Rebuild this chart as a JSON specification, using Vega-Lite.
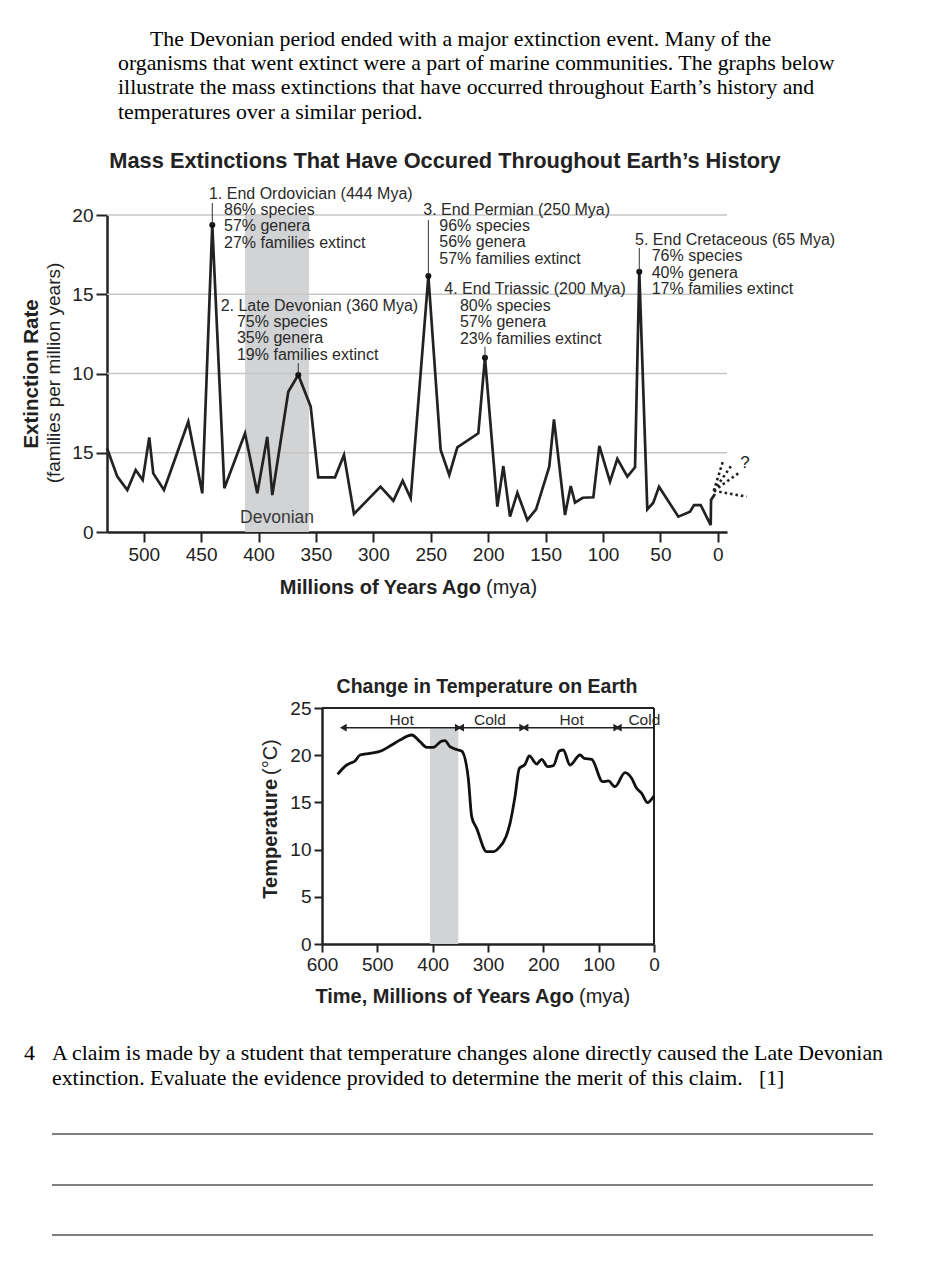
{
  "$schema": "https://vega.github.io/schema/vega-lite/v6.json",
  "width": 952,
  "height": 1270,
  "padding": 0,
  "autosize": {"type": "none"},
  "background": "white",
  "config": {
    "view": {"stroke": null},
    "axis": {"grid": false, "domainColor": "#222", "domainWidth": 2.5, "tickColor": "#222", "tickWidth": 2, "labelColor": "#222", "labelFont": "Liberation Sans", "labelFontSize": 19, "labelFlush": false, "labelOverlap": false}
  },
  "data": {"values": [{}]},
  "datasets": {
    "extinction": [
      {"mya": 532, "rate": 5.28}, {"mya": 523.0, "rate": 3.49}, {"mya": 514.3, "rate": 2.65}, {"mya": 507.0, "rate": 3.91},
      {"mya": 500.9, "rate": 3.28}, {"mya": 495.2, "rate": 5.97}, {"mya": 491.7, "rate": 3.70}, {"mya": 482.4, "rate": 2.65},
      {"mya": 461.2, "rate": 6.96}, {"mya": 449.0, "rate": 2.44}, {"mya": 440.3, "rate": 19.37}, {"mya": 429.8, "rate": 2.76},
      {"mya": 411.8, "rate": 6.23}, {"mya": 401.1, "rate": 2.44}, {"mya": 392.4, "rate": 6.01}, {"mya": 388.0, "rate": 2.33},
      {"mya": 374.1, "rate": 8.85}, {"mya": 365.4, "rate": 9.91}, {"mya": 354.6, "rate": 7.91}, {"mya": 348.0, "rate": 3.45},
      {"mya": 333.4, "rate": 3.45}, {"mya": 325.6, "rate": 4.86}, {"mya": 316.9, "rate": 1.14}, {"mya": 293.8, "rate": 2.86},
      {"mya": 282.6, "rate": 1.97}, {"mya": 274.5, "rate": 3.24}, {"mya": 267.5, "rate": 2.13}, {"mya": 252.1, "rate": 16.15},
      {"mya": 241.4, "rate": 5.17}, {"mya": 233.9, "rate": 3.60}, {"mya": 226.9, "rate": 5.34}, {"mya": 208.6, "rate": 6.23},
      {"mya": 202.8, "rate": 11.0}, {"mya": 192.0, "rate": 1.60}, {"mya": 186.8, "rate": 4.16}, {"mya": 181.0, "rate": 0.97},
      {"mya": 174.6, "rate": 2.48}, {"mya": 165.9, "rate": 0.76}, {"mya": 158.3, "rate": 1.43}, {"mya": 146.8, "rate": 4.12},
      {"mya": 142.7, "rate": 7.11}, {"mya": 133.1, "rate": 1.07}, {"mya": 128.1, "rate": 2.90}, {"mya": 124.4, "rate": 1.85},
      {"mya": 117.7, "rate": 2.16}, {"mya": 108.4, "rate": 2.19}, {"mya": 103.2, "rate": 5.43}, {"mya": 93.9, "rate": 3.17},
      {"mya": 87.5, "rate": 4.61}, {"mya": 78.8, "rate": 3.49}, {"mya": 72.1, "rate": 4.08}, {"mya": 68.4, "rate": 16.42},
      {"mya": 61.4, "rate": 1.43}, {"mya": 56.2, "rate": 1.85}, {"mya": 51.2, "rate": 2.86}, {"mya": 34.4, "rate": 0.97},
      {"mya": 24.2, "rate": 1.28}, {"mya": 20.7, "rate": 1.70}, {"mya": 14.9, "rate": 1.70}, {"mya": 6.2, "rate": 0.44},
      {"mya": 5.9, "rate": 2.02}, {"mya": 2.5, "rate": 2.4}
    ],
    "events": [
      {"event": "End Ordovician", "mya": 440.3, "rate": 19.37},
      {"event": "Late Devonian", "mya": 365.4, "rate": 9.91},
      {"event": "End Permian", "mya": 252.1, "rate": 16.15},
      {"event": "End Triassic", "mya": 202.8, "rate": 11.0},
      {"event": "End Cretaceous", "mya": 68.4, "rate": 16.42}
    ],
    "fan": [
      {"fan": 1, "mya": 3.5, "rate": 2.6}, {"fan": 1, "mya": -4.8, "rate": 4.54},
      {"fan": 2, "mya": 3.5, "rate": 2.6}, {"fan": 2, "mya": -12.1, "rate": 4.23},
      {"fan": 3, "mya": 3.5, "rate": 2.6}, {"fan": 3, "mya": -17.8, "rate": 3.70},
      {"fan": 4, "mya": 3.5, "rate": 2.6}, {"fan": 4, "mya": -25.1, "rate": 2.23}
    ],
    "gridlines": [{"rate": 5}, {"rate": 10}, {"rate": 15}, {"rate": 20}],
    "temperature": [
      {"mya": 571.7, "temp": 17.97}, {"mya": 555.4, "temp": 18.96}, {"mya": 549.4, "temp": 19.14}, {"mya": 540.4, "temp": 19.39},
      {"mya": 531.3, "temp": 20.02}, {"mya": 513.3, "temp": 20.20}, {"mya": 492.2, "temp": 20.48}, {"mya": 477.1, "temp": 20.97},
      {"mya": 459.0, "temp": 21.61}, {"mya": 437.9, "temp": 22.14}, {"mya": 422.9, "temp": 21.43}, {"mya": 410.8, "temp": 20.83},
      {"mya": 398.8, "temp": 20.83}, {"mya": 383.7, "temp": 21.50}, {"mya": 377.7, "temp": 21.54}, {"mya": 368.7, "temp": 20.90},
      {"mya": 353.6, "temp": 20.55}, {"mya": 347.6, "temp": 20.44}, {"mya": 335.6, "temp": 17.55}, {"mya": 329.5, "temp": 13.49},
      {"mya": 320.5, "temp": 12.25}, {"mya": 302.4, "temp": 9.78}, {"mya": 290.4, "temp": 9.78}, {"mya": 281.3, "temp": 10.13},
      {"mya": 267.5, "temp": 11.37}, {"mya": 260.2, "temp": 12.78}, {"mya": 251.2, "temp": 15.61}, {"mya": 243.4, "temp": 18.61},
      {"mya": 233.1, "temp": 19.03}, {"mya": 225.3, "temp": 19.92}, {"mya": 212.0, "temp": 19.07}, {"mya": 203.0, "temp": 19.56},
      {"mya": 192.2, "temp": 18.79}, {"mya": 181.9, "temp": 18.89}, {"mya": 171.1, "temp": 20.44}, {"mya": 163.9, "temp": 20.55},
      {"mya": 151.8, "temp": 18.96}, {"mya": 133.7, "temp": 20.02}, {"mya": 125.9, "temp": 19.67}, {"mya": 112.6, "temp": 19.56},
      {"mya": 92.8, "temp": 17.20}, {"mya": 82.5, "temp": 17.27}, {"mya": 70.5, "temp": 16.67}, {"mya": 52.4, "temp": 18.15},
      {"mya": 40.4, "temp": 17.55}, {"mya": 31.3, "temp": 16.49}, {"mya": 22.3, "temp": 15.96}, {"mya": 11.4, "temp": 14.97},
      {"mya": 7.2, "temp": 15.15}, {"mya": 0, "temp": 15.68}
    ],
    "periods": [
      {"period": "Hot", "start": 561.5, "end": 353.7},
      {"period": "Cold", "start": 349.4, "end": 237.3},
      {"period": "Hot", "start": 233.1, "end": 67.4},
      {"period": "Cold", "start": 64.5, "end": 0}
    ]
  },
  "layer": [
    {"mark": {"type": "rect", "color": "#d2d3d5"},
     "encoding": {"x": {"datum": 411.8, "type": "quantitative", "scale": {"domain": [-8, 532], "range": [727, 107], "nice": false, "zero": false}, "axis": null}, "x2": {"datum": 356.1},
                  "y": {"datum": 0, "type": "quantitative", "scale": {"domain": [0, 20], "range": [532, 215], "nice": false, "zero": false}, "axis": null}, "y2": {"datum": 20}}},
    {"data": {"name": "gridlines"}, "mark": {"type": "rule", "color": "#c6c6c6", "strokeWidth": 1.6},
     "encoding": {"x": {"datum": 532, "type": "quantitative", "scale": {"domain": [-8, 532], "range": [727, 107], "nice": false, "zero": false}, "axis": null}, "x2": {"datum": -8},
                  "y": {"field": "rate", "type": "quantitative", "scale": {"domain": [0, 20], "range": [532, 215], "nice": false, "zero": false}, "axis": null}}},
    {"data": {"name": "extinction"}, "mark": {"type": "line", "color": "#222", "strokeWidth": 2.7},
     "encoding": {"x": {"field": "mya", "type": "quantitative", "scale": {"domain": [-8, 532], "range": [727, 107], "nice": false, "zero": false},
                        "axis": {"orient": "bottom", "offset": -738, "values": [500, 450, 400, 350, 300, 250, 200, 150, 100, 50, 0], "title": null, "tickSize": 10, "labelPadding": 3, "format": "d"}},
                  "y": {"field": "rate", "type": "quantitative", "scale": {"domain": [0, 20], "range": [532, 215], "nice": false, "zero": false},
                        "axis": {"orient": "left", "offset": -107, "values": [0, 5, 10, 15, 20], "title": null, "tickSize": 11, "labelPadding": 3, "labelExpr": "datum.value == 5 ? '15' : datum.label"}}}},
    {"data": {"name": "fan"}, "mark": {"type": "line", "color": "#222", "strokeWidth": 2.6, "strokeDash": [2.5, 3]},
     "encoding": {"x": {"field": "mya", "type": "quantitative", "scale": {"domain": [-8, 532], "range": [727, 107], "nice": false, "zero": false}, "axis": null},
                  "y": {"field": "rate", "type": "quantitative", "scale": {"domain": [0, 20], "range": [532, 215], "nice": false, "zero": false}, "axis": null},
                  "detail": {"field": "fan", "type": "nominal"}}},
    {"data": {"name": "events"}, "mark": {"type": "point", "filled": true, "color": "#111", "size": 36, "opacity": 1},
     "encoding": {"x": {"field": "mya", "type": "quantitative", "scale": {"domain": [-8, 532], "range": [727, 107], "nice": false, "zero": false}, "axis": null},
                  "y": {"field": "rate", "type": "quantitative", "scale": {"domain": [0, 20], "range": [532, 215], "nice": false, "zero": false}, "axis": null}}},
    {"mark": {"type": "rule", "color": "#333", "strokeWidth": 1},
     "encoding": {"x": {"datum": 440.3, "type": "quantitative", "scale": {"domain": [-8, 532], "range": [727, 107], "nice": false, "zero": false}, "axis": null},
                  "y": {"datum": 19.37, "type": "quantitative", "scale": {"domain": [0, 20], "range": [532, 215], "nice": false, "zero": false}, "axis": null}, "y2": {"datum": 20.76}}},
    {"mark": {"type": "rule", "color": "#333", "strokeWidth": 1},
     "encoding": {"x": {"datum": 365.4, "type": "quantitative", "scale": {"domain": [-8, 532], "range": [727, 107], "nice": false, "zero": false}, "axis": null},
                  "y": {"datum": 9.91, "type": "quantitative", "scale": {"domain": [0, 20], "range": [532, 215], "nice": false, "zero": false}, "axis": null}, "y2": {"datum": 10.66}}},
    {"mark": {"type": "rule", "color": "#333", "strokeWidth": 1},
     "encoding": {"x": {"datum": 252.1, "type": "quantitative", "scale": {"domain": [-8, 532], "range": [727, 107], "nice": false, "zero": false}, "axis": null},
                  "y": {"datum": 16.15, "type": "quantitative", "scale": {"domain": [0, 20], "range": [532, 215], "nice": false, "zero": false}, "axis": null}, "y2": {"datum": 19.68}}},
    {"mark": {"type": "rule", "color": "#333", "strokeWidth": 1},
     "encoding": {"x": {"datum": 202.8, "type": "quantitative", "scale": {"domain": [-8, 532], "range": [727, 107], "nice": false, "zero": false}, "axis": null},
                  "y": {"datum": 11.0, "type": "quantitative", "scale": {"domain": [0, 20], "range": [532, 215], "nice": false, "zero": false}, "axis": null}, "y2": {"datum": 11.69}}},
    {"mark": {"type": "rule", "color": "#333", "strokeWidth": 1},
     "encoding": {"x": {"datum": 68.4, "type": "quantitative", "scale": {"domain": [-8, 532], "range": [727, 107], "nice": false, "zero": false}, "axis": null},
                  "y": {"datum": 16.42, "type": "quantitative", "scale": {"domain": [0, 20], "range": [532, 215], "nice": false, "zero": false}, "axis": null}, "y2": {"datum": 17.92}}},
    {"mark": {"type": "text", "font": "Liberation Sans", "fontSize": 16, "color": "#2a2a2a", "align": "left", "baseline": "middle"},
     "encoding": {"x": {"datum": 443.2, "type": "quantitative", "scale": {"domain": [-8, 532], "range": [727, 107], "nice": false, "zero": false}, "axis": null},
                  "y": {"datum": 21.33, "type": "quantitative", "scale": {"domain": [0, 20], "range": [532, 215], "nice": false, "zero": false}, "axis": null},
                  "text": {"value": "1. End Ordovician (444 Mya)"}}},
    {"mark": {"type": "text", "font": "Liberation Sans", "fontSize": 16, "lineHeight": 16.5, "color": "#2a2a2a", "align": "left", "baseline": "middle"},
     "encoding": {"x": {"datum": 430.1, "type": "quantitative", "scale": {"domain": [-8, 532], "range": [727, 107], "nice": false, "zero": false}, "axis": null},
                  "y": {"datum": 20.32, "type": "quantitative", "scale": {"domain": [0, 20], "range": [532, 215], "nice": false, "zero": false}, "axis": null},
                  "text": {"value": ["86% species", "57% genera", "27% families extinct"]}}},
    {"mark": {"type": "text", "font": "Liberation Sans", "fontSize": 16, "color": "#2a2a2a", "align": "left", "baseline": "middle"},
     "encoding": {"x": {"datum": 433.0, "type": "quantitative", "scale": {"domain": [-8, 532], "range": [727, 107], "nice": false, "zero": false}, "axis": null},
                  "y": {"datum": 14.26, "type": "quantitative", "scale": {"domain": [0, 20], "range": [532, 215], "nice": false, "zero": false}, "axis": null},
                  "text": {"value": "2. Late Devonian (360 Mya)"}}},
    {"mark": {"type": "text", "font": "Liberation Sans", "fontSize": 16, "lineHeight": 16.5, "color": "#2a2a2a", "align": "left", "baseline": "middle"},
     "encoding": {"x": {"datum": 418.8, "type": "quantitative", "scale": {"domain": [-8, 532], "range": [727, 107], "nice": false, "zero": false}, "axis": null},
                  "y": {"datum": 13.25, "type": "quantitative", "scale": {"domain": [0, 20], "range": [532, 215], "nice": false, "zero": false}, "axis": null},
                  "text": {"value": ["75% species", "35% genera", "19% families extinct"]}}},
    {"mark": {"type": "text", "font": "Liberation Sans", "fontSize": 16, "color": "#2a2a2a", "align": "left", "baseline": "middle"},
     "encoding": {"x": {"datum": 256.5, "type": "quantitative", "scale": {"domain": [-8, 532], "range": [727, 107], "nice": false, "zero": false}, "axis": null},
                  "y": {"datum": 20.32, "type": "quantitative", "scale": {"domain": [0, 20], "range": [532, 215], "nice": false, "zero": false}, "axis": null},
                  "text": {"value": "3. End Permian (250 Mya)"}}},
    {"mark": {"type": "text", "font": "Liberation Sans", "fontSize": 16, "lineHeight": 16.5, "color": "#2a2a2a", "align": "left", "baseline": "middle"},
     "encoding": {"x": {"datum": 242.6, "type": "quantitative", "scale": {"domain": [-8, 532], "range": [727, 107], "nice": false, "zero": false}, "axis": null},
                  "y": {"datum": 19.31, "type": "quantitative", "scale": {"domain": [0, 20], "range": [532, 215], "nice": false, "zero": false}, "axis": null},
                  "text": {"value": ["96% species", "56% genera", "57% families extinct"]}}},
    {"mark": {"type": "text", "font": "Liberation Sans", "fontSize": 16, "color": "#2a2a2a", "align": "left", "baseline": "middle"},
     "encoding": {"x": {"datum": 238.2, "type": "quantitative", "scale": {"domain": [-8, 532], "range": [727, 107], "nice": false, "zero": false}, "axis": null},
                  "y": {"datum": 15.35, "type": "quantitative", "scale": {"domain": [0, 20], "range": [532, 215], "nice": false, "zero": false}, "axis": null},
                  "text": {"value": "4. End Triassic (200 Mya)"}}},
    {"mark": {"type": "text", "font": "Liberation Sans", "fontSize": 16, "lineHeight": 16.5, "color": "#2a2a2a", "align": "left", "baseline": "middle"},
     "encoding": {"x": {"datum": 224.6, "type": "quantitative", "scale": {"domain": [-8, 532], "range": [727, 107], "nice": false, "zero": false}, "axis": null},
                  "y": {"datum": 14.26, "type": "quantitative", "scale": {"domain": [0, 20], "range": [532, 215], "nice": false, "zero": false}, "axis": null},
                  "text": {"value": ["80% species", "57% genera", "23% families extinct"]}}},
    {"mark": {"type": "text", "font": "Liberation Sans", "fontSize": 16, "color": "#2a2a2a", "align": "left", "baseline": "middle"},
     "encoding": {"x": {"datum": 72.1, "type": "quantitative", "scale": {"domain": [-8, 532], "range": [727, 107], "nice": false, "zero": false}, "axis": null},
                  "y": {"datum": 18.42, "type": "quantitative", "scale": {"domain": [0, 20], "range": [532, 215], "nice": false, "zero": false}, "axis": null},
                  "text": {"value": "5. End Cretaceous (65 Mya)"}}},
    {"mark": {"type": "text", "font": "Liberation Sans", "fontSize": 16, "lineHeight": 16.5, "color": "#2a2a2a", "align": "left", "baseline": "middle"},
     "encoding": {"x": {"datum": 57.6, "type": "quantitative", "scale": {"domain": [-8, 532], "range": [727, 107], "nice": false, "zero": false}, "axis": null},
                  "y": {"datum": 17.39, "type": "quantitative", "scale": {"domain": [0, 20], "range": [532, 215], "nice": false, "zero": false}, "axis": null},
                  "text": {"value": ["76% species", "40% genera", "17% families extinct"]}}},
    {"mark": {"type": "text", "font": "Liberation Sans", "fontSize": 17.5, "color": "#3a3a3a", "align": "center", "baseline": "middle"},
     "encoding": {"x": {"datum": 383.9, "type": "quantitative", "scale": {"domain": [-8, 532], "range": [727, 107], "nice": false, "zero": false}, "axis": null},
                  "y": {"datum": 0.88, "type": "quantitative", "scale": {"domain": [0, 20], "range": [532, 215], "nice": false, "zero": false}, "axis": null},
                  "text": {"value": "Devonian"}}},
    {"mark": {"type": "text", "font": "Liberation Sans", "fontSize": 17, "color": "#222", "align": "center", "baseline": "middle"},
     "encoding": {"x": {"datum": -23.7, "type": "quantitative", "scale": {"domain": [-8, 532], "range": [727, 107], "nice": false, "zero": false}, "axis": null},
                  "y": {"datum": 4.35, "type": "quantitative", "scale": {"domain": [0, 20], "range": [532, 215], "nice": false, "zero": false}, "axis": null},
                  "text": {"value": "?"}}},
    {"mark": {"type": "text", "font": "Liberation Sans", "fontSize": 21.8, "fontWeight": "bold", "color": "#222", "align": "center", "baseline": "middle"},
     "encoding": {"x": {"datum": 237.6, "type": "quantitative", "scale": {"domain": [-8, 532], "range": [727, 107], "nice": false, "zero": false}, "axis": null},
                  "y": {"datum": 23.41, "type": "quantitative", "scale": {"domain": [0, 20], "range": [532, 215], "nice": false, "zero": false}, "axis": null},
                  "text": {"value": "Mass Extinctions That Have Occured Throughout Earth’s History"}}},
    {"mark": {"type": "text", "font": "Liberation Sans", "fontSize": 20.5, "fontWeight": "bold", "color": "#222", "align": "center", "baseline": "middle", "angle": 270},
     "encoding": {"x": {"datum": 597.3, "type": "quantitative", "scale": {"domain": [-8, 532], "range": [727, 107], "nice": false, "zero": false}, "axis": null},
                  "y": {"datum": 9.97, "type": "quantitative", "scale": {"domain": [0, 20], "range": [532, 215], "nice": false, "zero": false}, "axis": null},
                  "text": {"value": "Extinction Rate"}}},
    {"mark": {"type": "text", "font": "Liberation Sans", "fontSize": 19, "color": "#222", "align": "center", "baseline": "middle", "angle": 270},
     "encoding": {"x": {"datum": 578.2, "type": "quantitative", "scale": {"domain": [-8, 532], "range": [727, 107], "nice": false, "zero": false}, "axis": null},
                  "y": {"datum": 10.03, "type": "quantitative", "scale": {"domain": [0, 20], "range": [532, 215], "nice": false, "zero": false}, "axis": null},
                  "text": {"value": "(families per million years)"}}},
    {"mark": {"type": "text", "font": "Liberation Sans", "fontSize": 20, "fontWeight": "bold", "color": "#222", "align": "right", "baseline": "middle"},
     "encoding": {"x": {"datum": 206.3, "type": "quantitative", "scale": {"domain": [-8, 532], "range": [727, 107], "nice": false, "zero": false}, "axis": null},
                  "y": {"datum": -3.53, "type": "quantitative", "scale": {"domain": [0, 20], "range": [532, 215], "nice": false, "zero": false}, "axis": null},
                  "text": {"value": "Millions of Years Ago"}}},
    {"mark": {"type": "text", "font": "Liberation Sans", "fontSize": 20, "color": "#222", "align": "left", "baseline": "middle"},
     "encoding": {"x": {"datum": 201.9, "type": "quantitative", "scale": {"domain": [-8, 532], "range": [727, 107], "nice": false, "zero": false}, "axis": null},
                  "y": {"datum": -3.53, "type": "quantitative", "scale": {"domain": [0, 20], "range": [532, 215], "nice": false, "zero": false}, "axis": null},
                  "text": {"value": "(mya)"}}},
    {"mark": {"type": "text", "font": "Liberation Serif", "fontSize": 21.8, "color": "#000", "align": "left", "baseline": "middle"},
     "encoding": {"x": {"datum": 494.5, "type": "quantitative", "scale": {"domain": [-8, 532], "range": [727, 107], "nice": false, "zero": false}, "axis": null},
                  "y": {"datum": 31.10, "type": "quantitative", "scale": {"domain": [0, 20], "range": [532, 215], "nice": false, "zero": false}, "axis": null},
                  "text": {"value": "The Devonian period ended with a major extinction event. Many of the"}}},
    {"mark": {"type": "text", "font": "Liberation Serif", "fontSize": 21.8, "lineHeight": 24.4, "color": "#000", "align": "left", "baseline": "middle"},
     "encoding": {"x": {"datum": 522.4, "type": "quantitative", "scale": {"domain": [-8, 532], "range": [727, 107], "nice": false, "zero": false}, "axis": null},
                  "y": {"datum": 29.59, "type": "quantitative", "scale": {"domain": [0, 20], "range": [532, 215], "nice": false, "zero": false}, "axis": null},
                  "text": {"value": ["organisms that went extinct were a part of marine communities. The graphs below", "illustrate the mass extinctions that have occurred throughout Earth’s history and", "temperatures over a similar period."]}}},
    {"mark": {"type": "rect", "color": "#d2d3d5"},
     "encoding": {"x": {"datum": 404.8, "type": "quantitative", "scale": {"domain": [0, 600], "range": [654, 322], "nice": false, "zero": false}, "axis": null}, "x2": {"datum": 353.7},
                  "y": {"datum": 0, "type": "quantitative", "scale": {"domain": [0, 25], "range": [944, 708], "nice": false, "zero": false}, "axis": null}, "y2": {"datum": 22.85}}},
    {"mark": {"type": "rule", "color": "#222", "strokeWidth": 2},
     "encoding": {"x": {"datum": 600, "type": "quantitative", "scale": {"domain": [0, 600], "range": [654, 322], "nice": false, "zero": false}, "axis": null}, "x2": {"datum": 0},
                  "y": {"datum": 25, "type": "quantitative", "scale": {"domain": [0, 25], "range": [944, 708], "nice": false, "zero": false}, "axis": null}}},
    {"mark": {"type": "rule", "color": "#222", "strokeWidth": 2},
     "encoding": {"x": {"datum": 0, "type": "quantitative", "scale": {"domain": [0, 600], "range": [654, 322], "nice": false, "zero": false}, "axis": null},
                  "y": {"datum": 0, "type": "quantitative", "scale": {"domain": [0, 25], "range": [944, 708], "nice": false, "zero": false}, "axis": null}, "y2": {"datum": 25}}},
    {"data": {"name": "temperature"}, "mark": {"type": "line", "color": "#111", "strokeWidth": 2.8, "interpolate": "monotone"},
     "encoding": {"x": {"field": "mya", "type": "quantitative", "scale": {"domain": [0, 600], "range": [654, 322], "nice": false, "zero": false},
                        "axis": {"orient": "bottom", "offset": -326, "values": [600, 500, 400, 300, 200, 100, 0], "title": null, "tickSize": 8, "labelPadding": 3, "format": "d"}},
                  "y": {"field": "temp", "type": "quantitative", "scale": {"domain": [0, 25], "range": [944, 708], "nice": false, "zero": false},
                        "axis": {"orient": "left", "offset": -322, "values": [0, 5, 10, 15, 20, 25], "title": null, "tickSize": 8, "labelPadding": 3}}}},
    {"data": {"name": "periods"}, "mark": {"type": "rule", "color": "#222", "strokeWidth": 1.5},
     "encoding": {"x": {"field": "start", "type": "quantitative", "scale": {"domain": [0, 600], "range": [654, 322], "nice": false, "zero": false}, "axis": null}, "x2": {"field": "end"},
                  "y": {"datum": 22.91, "type": "quantitative", "scale": {"domain": [0, 25], "range": [944, 708], "nice": false, "zero": false}, "axis": null}}},
    {"data": {"name": "periods"}, "mark": {"type": "point", "shape": "triangle-left", "filled": true, "color": "#222", "size": 60, "opacity": 1},
     "encoding": {"x": {"field": "start", "type": "quantitative", "scale": {"domain": [0, 600], "range": [654, 322], "nice": false, "zero": false}, "axis": null},
                  "y": {"datum": 22.91, "type": "quantitative", "scale": {"domain": [0, 25], "range": [944, 708], "nice": false, "zero": false}, "axis": null}}},
    {"data": {"name": "periods"}, "transform": [{"filter": "datum.end > 0"}], "mark": {"type": "point", "shape": "triangle-right", "filled": true, "color": "#222", "size": 60, "opacity": 1},
     "encoding": {"x": {"field": "end", "type": "quantitative", "scale": {"domain": [0, 600], "range": [654, 322], "nice": false, "zero": false}, "axis": null},
                  "y": {"datum": 22.91, "type": "quantitative", "scale": {"domain": [0, 25], "range": [944, 708], "nice": false, "zero": false}, "axis": null}}},
    {"mark": {"type": "text", "font": "Liberation Sans", "fontSize": 15.5, "color": "#2a2a2a", "align": "center", "baseline": "middle"},
     "encoding": {"x": {"datum": 456.0, "type": "quantitative", "scale": {"domain": [0, 600], "range": [654, 322], "nice": false, "zero": false}, "axis": null},
                  "y": {"datum": 23.70, "type": "quantitative", "scale": {"domain": [0, 25], "range": [944, 708], "nice": false, "zero": false}, "axis": null},
                  "text": {"value": "Hot"}}},
    {"mark": {"type": "text", "font": "Liberation Sans", "fontSize": 15.5, "color": "#2a2a2a", "align": "center", "baseline": "middle"},
     "encoding": {"x": {"datum": 296.4, "type": "quantitative", "scale": {"domain": [0, 600], "range": [654, 322], "nice": false, "zero": false}, "axis": null},
                  "y": {"datum": 23.70, "type": "quantitative", "scale": {"domain": [0, 25], "range": [944, 708], "nice": false, "zero": false}, "axis": null},
                  "text": {"value": "Cold"}}},
    {"mark": {"type": "text", "font": "Liberation Sans", "fontSize": 15.5, "color": "#2a2a2a", "align": "center", "baseline": "middle"},
     "encoding": {"x": {"datum": 148.8, "type": "quantitative", "scale": {"domain": [0, 600], "range": [654, 322], "nice": false, "zero": false}, "axis": null},
                  "y": {"datum": 23.70, "type": "quantitative", "scale": {"domain": [0, 25], "range": [944, 708], "nice": false, "zero": false}, "axis": null},
                  "text": {"value": "Hot"}}},
    {"mark": {"type": "text", "font": "Liberation Sans", "fontSize": 15.5, "color": "#2a2a2a", "align": "center", "baseline": "middle"},
     "encoding": {"x": {"datum": 17.5, "type": "quantitative", "scale": {"domain": [0, 600], "range": [654, 322], "nice": false, "zero": false}, "axis": null},
                  "y": {"datum": 23.70, "type": "quantitative", "scale": {"domain": [0, 25], "range": [944, 708], "nice": false, "zero": false}, "axis": null},
                  "text": {"value": "Cold"}}},
    {"mark": {"type": "text", "font": "Liberation Sans", "fontSize": 19.5, "fontWeight": "bold", "color": "#222", "align": "center", "baseline": "middle"},
     "encoding": {"x": {"datum": 301.8, "type": "quantitative", "scale": {"domain": [0, 600], "range": [654, 322], "nice": false, "zero": false}, "axis": null},
                  "y": {"datum": 27.22, "type": "quantitative", "scale": {"domain": [0, 25], "range": [944, 708], "nice": false, "zero": false}, "axis": null},
                  "text": {"value": "Change in Temperature on Earth"}}},
    {"mark": {"type": "text", "font": "Liberation Sans", "fontSize": 20, "fontWeight": "bold", "color": "#222", "align": "right", "baseline": "middle", "angle": 270},
     "encoding": {"x": {"datum": 692.2, "type": "quantitative", "scale": {"domain": [0, 600], "range": [654, 322], "nice": false, "zero": false}, "axis": null},
                  "y": {"datum": 17.48, "type": "quantitative", "scale": {"domain": [0, 25], "range": [944, 708], "nice": false, "zero": false}, "axis": null},
                  "text": {"value": "Temperature"}}},
    {"mark": {"type": "text", "font": "Liberation Sans", "fontSize": 20, "color": "#222", "align": "left", "baseline": "middle", "angle": 270},
     "encoding": {"x": {"datum": 692.2, "type": "quantitative", "scale": {"domain": [0, 600], "range": [654, 322], "nice": false, "zero": false}, "axis": null},
                  "y": {"datum": 17.90, "type": "quantitative", "scale": {"domain": [0, 25], "range": [944, 708], "nice": false, "zero": false}, "axis": null},
                  "text": {"value": "(°C)"}}},
    {"mark": {"type": "text", "font": "Liberation Sans", "fontSize": 20, "fontWeight": "bold", "color": "#222", "align": "right", "baseline": "middle"},
     "encoding": {"x": {"datum": 144.6, "type": "quantitative", "scale": {"domain": [0, 600], "range": [654, 322], "nice": false, "zero": false}, "axis": null},
                  "y": {"datum": -5.61, "type": "quantitative", "scale": {"domain": [0, 25], "range": [944, 708], "nice": false, "zero": false}, "axis": null},
                  "text": {"value": "Time, Millions of Years Ago"}}},
    {"mark": {"type": "text", "font": "Liberation Sans", "fontSize": 20, "color": "#222", "align": "left", "baseline": "middle"},
     "encoding": {"x": {"datum": 135.5, "type": "quantitative", "scale": {"domain": [0, 600], "range": [654, 322], "nice": false, "zero": false}, "axis": null},
                  "y": {"datum": -5.61, "type": "quantitative", "scale": {"domain": [0, 25], "range": [944, 708], "nice": false, "zero": false}, "axis": null},
                  "text": {"value": "(mya)"}}},
    {"mark": {"type": "text", "font": "Liberation Serif", "fontSize": 21.8, "color": "#000", "align": "left", "baseline": "middle"},
     "encoding": {"x": {"datum": 1138.6, "type": "quantitative", "scale": {"domain": [0, 600], "range": [654, 322], "nice": false, "zero": false}, "axis": null},
                  "y": {"datum": -11.55, "type": "quantitative", "scale": {"domain": [0, 25], "range": [944, 708], "nice": false, "zero": false}, "axis": null},
                  "text": {"value": "4"}}},
    {"mark": {"type": "text", "font": "Liberation Serif", "fontSize": 21.8, "lineHeight": 25, "color": "#000", "align": "left", "baseline": "middle"},
     "encoding": {"x": {"datum": 1087.95, "type": "quantitative", "scale": {"domain": [0, 600], "range": [654, 322], "nice": false, "zero": false}, "axis": null},
                  "y": {"datum": -11.55, "type": "quantitative", "scale": {"domain": [0, 25], "range": [944, 708], "nice": false, "zero": false}, "axis": null},
                  "text": {"value": ["A claim is made by a student that temperature changes alone directly caused the Late Devonian", "extinction. Evaluate the evidence provided to determine the merit of this claim.\u00a0\u00a0\u00a0[1]"]}}},
    {"mark": {"type": "rule", "color": "#555", "strokeWidth": 1.5},
     "encoding": {"x": {"datum": 1087.95, "type": "quantitative", "scale": {"domain": [0, 600], "range": [654, 322], "nice": false, "zero": false}, "axis": null}, "x2": {"datum": -395.8},
                  "y": {"datum": -20.13, "type": "quantitative", "scale": {"domain": [0, 25], "range": [944, 708], "nice": false, "zero": false}, "axis": null}}},
    {"mark": {"type": "rule", "color": "#555", "strokeWidth": 1.5},
     "encoding": {"x": {"datum": 1087.95, "type": "quantitative", "scale": {"domain": [0, 600], "range": [654, 322], "nice": false, "zero": false}, "axis": null}, "x2": {"datum": -395.8},
                  "y": {"datum": -25.53, "type": "quantitative", "scale": {"domain": [0, 25], "range": [944, 708], "nice": false, "zero": false}, "axis": null}}},
    {"mark": {"type": "rule", "color": "#555", "strokeWidth": 1.5},
     "encoding": {"x": {"datum": 1087.95, "type": "quantitative", "scale": {"domain": [0, 600], "range": [654, 322], "nice": false, "zero": false}, "axis": null}, "x2": {"datum": -395.8},
                  "y": {"datum": -30.83, "type": "quantitative", "scale": {"domain": [0, 25], "range": [944, 708], "nice": false, "zero": false}, "axis": null}}}
  ],
  "resolve": {"scale": {"x": "independent", "y": "independent"}, "axis": {"x": "independent", "y": "independent"}}
}
